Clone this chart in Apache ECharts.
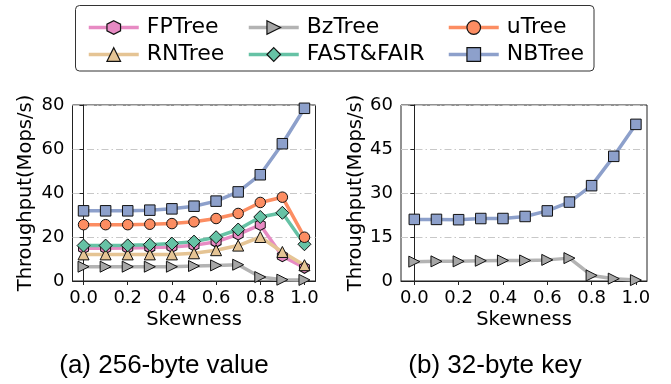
<!DOCTYPE html>
<html>
<head>
<meta charset="utf-8">
<script src="https://cdn.jsdelivr.net/npm/echarts@6/dist/echarts.min.js"></script>
<style>html,body{margin:0;padding:0;background:#fff}#c{width:671px;height:384px}</style>
</head>
<body>
<div id="c"></div>
<script>
// ---- data ----
const skew = [0.0, 0.1, 0.2, 0.3, 0.4, 0.5, 0.6, 0.7, 0.8, 0.9, 1.0];
const xTicks = [0.0, 0.2, 0.4, 0.6, 0.8, 1.0];
const leftTicks = [0, 20, 40, 60, 80];
const rightTicks = [0, 15, 30, 45, 60];

// (a) 256-byte value
const a_FPTree   = [14.9, 14.9, 15.0, 15.2, 15.5, 16.2, 17.8, 21.2, 25.5, 11.3, 6.0];
const a_RNTree   = [12.1, 12.1, 12.1, 12.1, 12.1, 12.6, 14.0, 16.1, 20.0, 13.2, 7.2];
const a_BzTree   = [6.5, 6.5, 6.5, 6.5, 6.5, 6.8, 7.1, 7.4, 1.8, 0.6, 0.5];
const a_FASTFAIR = [16.1, 16.1, 16.2, 16.5, 17.0, 17.9, 19.9, 23.4, 29.1, 31.0, 16.7];
const a_uTree    = [25.6, 25.6, 25.6, 25.8, 26.1, 26.9, 28.4, 30.7, 35.7, 38.1, 19.9];
const a_NBTree   = [31.9, 31.9, 31.9, 32.2, 32.8, 34.0, 36.3, 40.5, 48.3, 62.4, 78.5];

// (b) 32-byte key
const b_BzTree   = [6.6, 6.7, 6.7, 6.9, 7.0, 7.0, 7.2, 7.8, 1.9, 0.8, 0.3];
const b_NBTree   = [21.0, 21.0, 20.9, 21.3, 21.3, 22.0, 23.9, 26.9, 32.5, 42.5, 53.4];

const names = ['FPTree', 'RNTree', 'BzTree', 'FAST&FAIR', 'uTree', 'NBTree'];
const captions = ['(a) 256-byte value', '(b) 32-byte key'];

// ---- styles ----
const colors = {
  'FPTree': '#e78ac3', 'RNTree': '#e5c494', 'BzTree': '#b3b3b3',
  'FAST&FAIR': '#66c2a5', 'uTree': '#fc8d62', 'NBTree': '#8da0cb'
};
const markerFill = {
  'FPTree': '#e78ac3', 'RNTree': '#e5c494', 'BzTree': '#a6a6a6',
  'FAST&FAIR': '#66c2a5', 'uTree': '#fc8d62', 'NBTree': '#8da0cb'
};
const symbols = {
  'FPTree': 'path://M0,-1L0.866,-0.5L0.866,0.5L0,1L-0.866,0.5L-0.866,-0.5Z',
  'RNTree': 'triangle',
  'BzTree': 'path://M0,0L1,0.5L0,1Z',
  'FAST&FAIR': 'diamond',
  'uTree': 'circle',
  'NBTree': 'rect'
};
const symSizes = {
  'FPTree': [10, 11], 'RNTree': 11, 'BzTree': [11, 11],
  'FAST&FAIR': 13, 'uTree': 10.5, 'NBTree': 10.5
};

function mk(name, vals, idx) {
  return {
    name: name, type: 'line',
    xAxisIndex: idx, yAxisIndex: idx,
    data: vals.map((v, i) => [skew[i], v]),
    symbol: symbols[name], symbolSize: symSizes[name],
    showAllSymbol: true,
    lineStyle: { color: colors[name], width: 3.5 },
    itemStyle: { color: markerFill[name], borderColor: '#111', borderWidth: 1 },
    emphasis: { disabled: true },
    animation: false, z: 2
  };
}

const seriesA = [
  mk('FPTree', a_FPTree, 0), mk('RNTree', a_RNTree, 0), mk('BzTree', a_BzTree, 0),
  mk('FAST&FAIR', a_FASTFAIR, 0), mk('uTree', a_uTree, 0), mk('NBTree', a_NBTree, 0)
];
const seriesB = [mk('BzTree', b_BzTree, 1), mk('NBTree', b_NBTree, 1)];

const tickFont = { fontFamily: 'DejaVu Sans', fontSize: 18, color: '#000' };
const titleFont = { fontFamily: 'DejaVu Sans', fontSize: 19.5, color: '#000' };
const gridLine = { show: true, lineStyle: { color: '#c8c8c8', width: 1, type: [7, 3, 1.5, 3] } };

function xAx(idx) {
  return {
    type: 'value', gridIndex: idx, min: idx === 0 ? -0.05 : -0.06, max: 1.05,
    name: 'Skewness', nameLocation: 'middle', nameGap: 29, nameTextStyle: titleFont,
    axisLine: { lineStyle: { color: '#222', width: 1 } },
    axisTick: { show: true, length: 4, inside: false, customValues: xTicks, lineStyle: { color: '#222' } },
    axisLabel: { customValues: xTicks, margin: 8, formatter: v => v.toFixed(1), ...tickFont },
    splitLine: { show: false }
  };
}
function yAx(idx, max, interval, gap) {
  return {
    type: 'value', gridIndex: idx, min: 0, max: max, interval: interval,
    name: 'Throughput(Mops/s)', nameLocation: 'middle', nameGap: gap, nameTextStyle: titleFont,
    axisLine: { show: true, lineStyle: { color: '#222', width: 1 } },
    axisTick: { show: true, length: 4, lineStyle: { color: '#222' } },
    axisLabel: { margin: 8, ...tickFont },
    splitLine: gridLine
  };
}

function legendCol(left, data) {
  return {
    left: left, top: 11, orient: 'vertical', itemGap: 4,
    itemWidth: 50, itemHeight: 17,
    data: data, selectedMode: false,
    lineStyle: { width: 3.5 },
    itemStyle: { borderWidth: 1.2, borderColor: '#111' },
    textStyle: { fontFamily: 'DejaVu Sans', fontSize: 22, color: '#000', lineHeight: 23, padding: [0, 0, 0, 3] }
  };
}

const chart = echarts.init(document.getElementById('c'), null, { renderer: 'canvas' });
chart.setOption({
  animation: false,
  backgroundColor: '#fff',
  grid: [
    { left: 72.5, top: 105, width: 243, height: 176, show: true, borderColor: '#222', borderWidth: 1, backgroundColor: 'transparent' },
    { left: 401, top: 105, width: 246, height: 176, show: true, borderColor: '#222', borderWidth: 1, backgroundColor: 'transparent' }
  ],
  xAxis: [xAx(0), xAx(1)],
  yAxis: [yAx(0, 80, 20, 37), yAx(1, 60, 15, 35)],
  legend: [
    legendCol(82, [names[0], names[1]]),
    legendCol(242, [names[2], names[3]]),
    legendCol(442, [names[4], names[5]])
  ],
  graphic: [
    { type: 'rect', shape: { x: 75.5, y: 5.5, width: 518.5, height: 65.5, r: 4 }, style: { fill: 'none', stroke: '#333', lineWidth: 1 }, z: 0, silent: true },
    { type: 'text', x: 164, y: 366, style: { text: captions[0], font: '26px "Liberation Sans"', fill: '#000', textAlign: 'center', textVerticalAlign: 'middle' } },
    { type: 'text', x: 495, y: 366, style: { text: captions[1], font: '26px "Liberation Sans"', fill: '#000', textAlign: 'center', textVerticalAlign: 'middle' } }
  ],
  series: seriesA.concat(seriesB)
});
</script>
</body>
</html>
